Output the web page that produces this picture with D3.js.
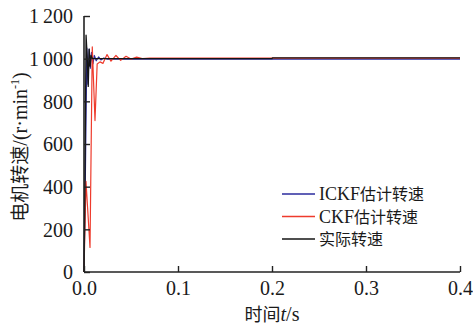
<!DOCTYPE html>
<html>
<head>
<meta charset="utf-8">
<script src="https://cdn.jsdelivr.net/npm/d3@7/dist/d3.min.js"></script>
<style>
  html, body { margin: 0; padding: 0; background: #fff; }
  svg { display: block; }
</style>
</head>
<body>
<svg id="chart" width="473" height="327"></svg>
<script>
// Time axis (s) and tick labels
const xTicks = [0.0, 0.1, 0.2, 0.3, 0.4];
const yTicks = [0, 200, 400, 600, 800, 1000, 1200];

// Actual motor speed (r/min)
const actualT = [0, 0.0008, 0.0022, 0.0035, 0.0045, 0.0055, 0.0065, 0.0075, 0.009, 0.2, 0.2005, 0.4];
const actualV = [0, 300, 1110, 1000, 870, 1045, 965, 1015, 1000, 1000, 1004, 1004];

// ICKF estimated speed (r/min)
const ickfT = [0, 0.0012, 0.003, 0.0042, 0.0055, 0.0068, 0.008, 0.0095, 0.011, 0.013, 0.0155, 0.018, 0.021, 0.025, 0.03, 0.4];
const ickfV = [0, 350, 1050, 880, 1045, 955, 1030, 975, 1015, 990, 1008, 994, 1003, 998, 998, 998];

// CKF estimated speed (r/min)
const ckfT = [0, 0.0021, 0.0064, 0.0088, 0.0117, 0.014, 0.017, 0.0202, 0.0245, 0.0287, 0.034, 0.039, 0.0447, 0.05, 0.056, 0.062, 0.07, 0.4];
const ckfV = [0, 425, 115, 1055, 710, 975, 985, 978, 1019, 988, 1015, 992, 1011, 998, 1007, 1000, 1003, 1003];

// Legend entries
const legendLabels = ["ICKF估计转速", "CKF估计转速", "实际转速"];
const legendColors = ["#2b2b9e", "#ee3b2c", "#151515"];

const svg = d3.select("#chart");
const x0 = 84, x1 = 460, yTop = 16, yBot = 272;

const x = d3.scaleLinear().domain([0, 0.4]).range([x0, x1]);
const y = d3.scaleLinear().domain([0, 1200]).range([yBot, yTop]);

const serif = '"Liberation Serif", "DejaVu Serif", serif';
const cjk = '"Noto Sans CJK SC", sans-serif';

// Series lines
const line = d3.line().x(d => x(d[0])).y(d => y(d[1]));
const series = [
  { t: ickfT, v: ickfV, color: legendColors[0], w: 1.2 },
  { t: ckfT, v: ckfV, color: legendColors[1], w: 1.2 },
  { t: actualT, v: actualV, color: legendColors[2], w: 1.3 }
];
series.forEach(s => {
  svg.append("path")
    .attr("d", line(s.t.map((t, i) => [t, s.v[i]])))
    .attr("fill", "none")
    .attr("stroke", s.color)
    .attr("stroke-width", s.w)
    .attr("stroke-linejoin", "round");
});

// Axes with inward ticks
const xAxis = d3.axisBottom(x).tickValues(xTicks).tickFormat(d3.format(".1f"))
  .tickSizeInner(-6).tickSizeOuter(0).tickPadding(13);
const yAxis = d3.axisLeft(y).tickValues(yTicks)
  .tickFormat(d => d >= 1000 ? String(Math.floor(d / 1000)) + "\u2009" + String(d % 1000).padStart(3, "0") : String(d))
  .tickSizeInner(-6).tickSizeOuter(0).tickPadding(11);

const gx = svg.append("g").attr("transform", `translate(0,${yBot})`).call(xAxis);
const gy = svg.append("g").attr("transform", `translate(${x0},0)`).call(yAxis);
[gx, gy].forEach(g => {
  g.select(".domain").attr("stroke", "#222").attr("stroke-width", 1.6);
  g.selectAll(".tick line").attr("stroke", "#222").attr("stroke-width", 1.4);
  g.selectAll(".tick text").attr("fill", "#1a1a1a").style("font-size", "20px").style("font-family", serif);
});
gx.selectAll(".tick text").attr("dy", "0.5em");
gy.selectAll(".tick text").attr("dy", "0.34em");
// y-axis extends to the 1200 tick
gy.select(".domain").attr("d", `M0,${yBot}V${yTop}`);
gx.select(".domain").attr("d", `M${x0},0H${x1}`);

// X axis title
const xt = svg.append("text").attr("x", 272).attr("y", 321).attr("text-anchor", "middle")
  .attr("fill", "#1a1a1a").style("font-size", "18px");
xt.append("tspan").style("font-family", cjk).text("时间");
xt.append("tspan").style("font-family", serif).style("font-style", "italic").style("font-size", "20px").text("t");
xt.append("tspan").style("font-family", serif).style("font-size", "20px").text("/s");

// Y axis title
const yt = svg.append("text").attr("transform", "translate(27,147) rotate(-90)")
  .attr("text-anchor", "middle").attr("fill", "#1a1a1a").style("font-size", "19px");
yt.append("tspan").style("font-family", cjk).text("电机转速");
yt.append("tspan").style("font-family", serif).style("font-size", "20px").text("/(r·min");
yt.append("tspan").style("font-family", serif).style("font-size", "12px").attr("dy", -8).text("-1");
yt.append("tspan").style("font-family", serif).style("font-size", "20px").attr("dy", 8).text(")");

// Legend
const lg = svg.append("g");
legendLabels.forEach((lab, i) => {
  const cy = 194 + i * 22.5;
  lg.append("line").attr("x1", 282).attr("x2", 315).attr("y1", cy).attr("y2", cy)
    .attr("stroke", legendColors[i]).attr("stroke-width", 1.4);
  const m = lab.match(/^([A-Za-z]*)(.*)$/);
  const t = lg.append("text").attr("x", 319).attr("y", cy + 6).attr("fill", "#1a1a1a");
  if (m[1]) t.append("tspan").style("font-family", serif).style("font-size", "18px").text(m[1]);
  t.append("tspan").style("font-family", cjk).style("font-size", "16px").text(m[2]);
});
</script>
</body>
</html>
